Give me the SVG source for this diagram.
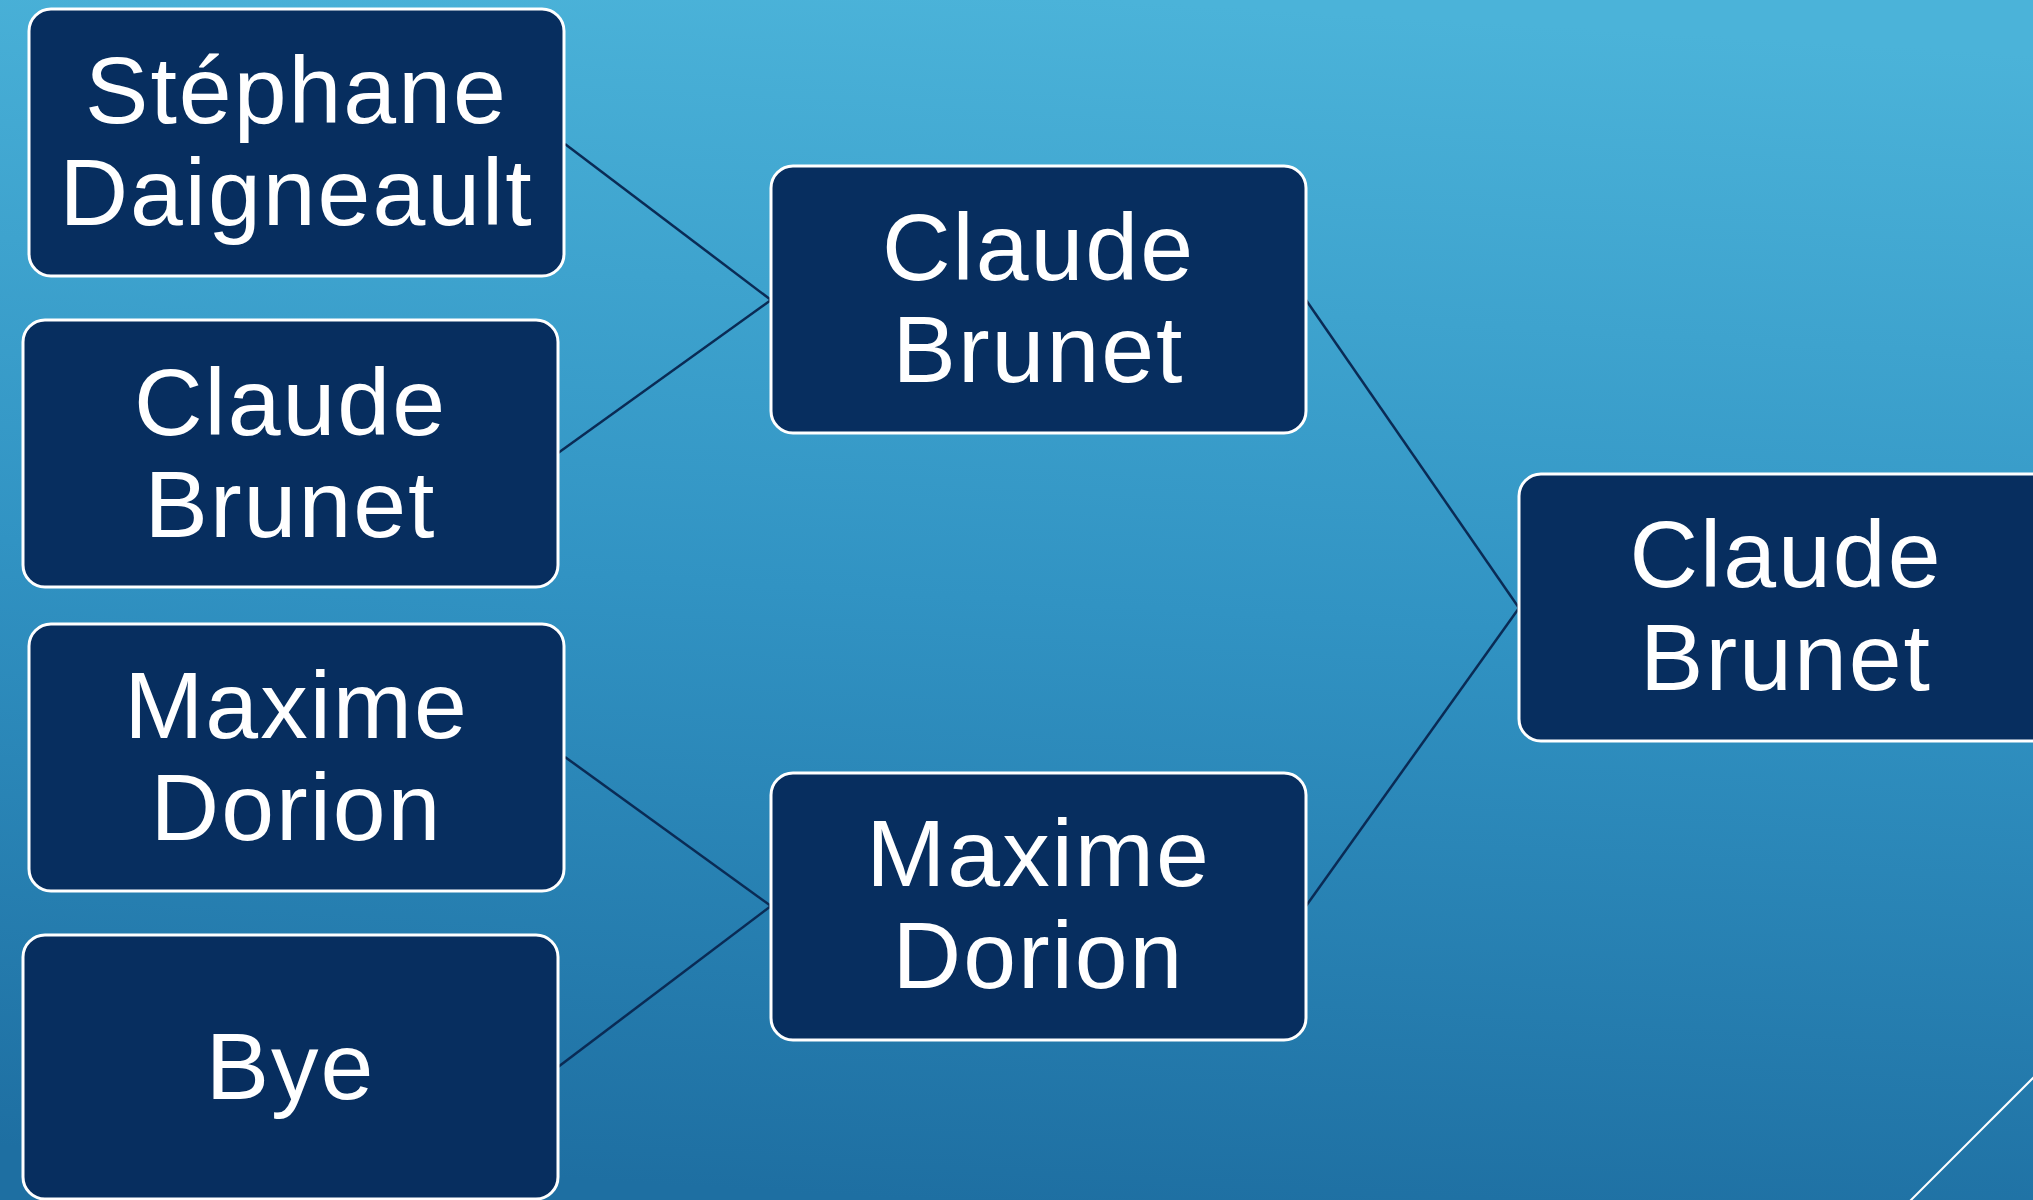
<svg xmlns="http://www.w3.org/2000/svg" width="2033" height="1200" viewBox="0 0 2033 1200">
  <defs>
    <linearGradient id="bg" x1="0.55" y1="0" x2="0.45" y2="1">
      <stop offset="0" stop-color="#4BB3D9"/>
      <stop offset="0.5" stop-color="#3193C3"/>
      <stop offset="1" stop-color="#1E6FA2"/>
    </linearGradient>
    <style>
      .box { fill: #072E5F; stroke: #FFFFFF; stroke-width: 3; }
      .lbl { fill: #FFFFFF; font-family: "Century Gothic", "Liberation Sans", "DejaVu Sans", sans-serif; font-size: 95px; text-anchor: middle; letter-spacing: 2px; }
      .conn { stroke: #0A2B55; stroke-width: 2.5; fill: none; }
    </style>
  </defs>
  <rect x="0" y="0" width="2033" height="1200" fill="url(#bg)"/>
  <line x1="1910" y1="1201" x2="2034" y2="1077" stroke="#FFFFFF" stroke-width="2"/>

  <g id="connectors">
    <line class="conn" x1="565" y1="144" x2="771" y2="300"/>
    <line class="conn" x1="558" y1="453" x2="771" y2="300"/>
    <line class="conn" x1="565" y1="757" x2="771" y2="906"/>
    <line class="conn" x1="558" y1="1067" x2="771" y2="906"/>
    <line class="conn" x1="1306" y1="300" x2="1519" y2="608"/>
    <line class="conn" x1="1306" y1="906" x2="1519" y2="608"/>
  </g>

  <g id="n1">
    <rect class="box" x="29" y="9" width="535" height="267" rx="22"/>
    <text class="lbl" x="296.5" y="123">Stéphane</text>
    <text class="lbl" x="296.5" y="225">Daigneault</text>
  </g>
  <g id="n2">
    <rect class="box" x="23" y="320" width="535" height="267" rx="22"/>
    <text class="lbl" x="290.5" y="435">Claude</text>
    <text class="lbl" x="290.5" y="537">Brunet</text>
  </g>
  <g id="n3">
    <rect class="box" x="29" y="624" width="535" height="267" rx="22"/>
    <text class="lbl" x="296.5" y="738">Maxime</text>
    <text class="lbl" x="296.5" y="840">Dorion</text>
  </g>
  <g id="n4">
    <rect class="box" x="23" y="935" width="535" height="264" rx="22"/>
    <text class="lbl" x="290.5" y="1099">Bye</text>
  </g>
  <g id="n5">
    <rect class="box" x="771" y="166" width="535" height="267" rx="22"/>
    <text class="lbl" x="1038.5" y="280">Claude</text>
    <text class="lbl" x="1038.5" y="382">Brunet</text>
  </g>
  <g id="n6">
    <rect class="box" x="771" y="773" width="535" height="267" rx="22"/>
    <text class="lbl" x="1038.5" y="886">Maxime</text>
    <text class="lbl" x="1038.5" y="988">Dorion</text>
  </g>
  <g id="n7">
    <rect class="box" x="1519" y="474" width="535" height="267" rx="22"/>
    <text class="lbl" x="1786" y="587">Claude</text>
    <text class="lbl" x="1786" y="690">Brunet</text>
  </g>
</svg>
